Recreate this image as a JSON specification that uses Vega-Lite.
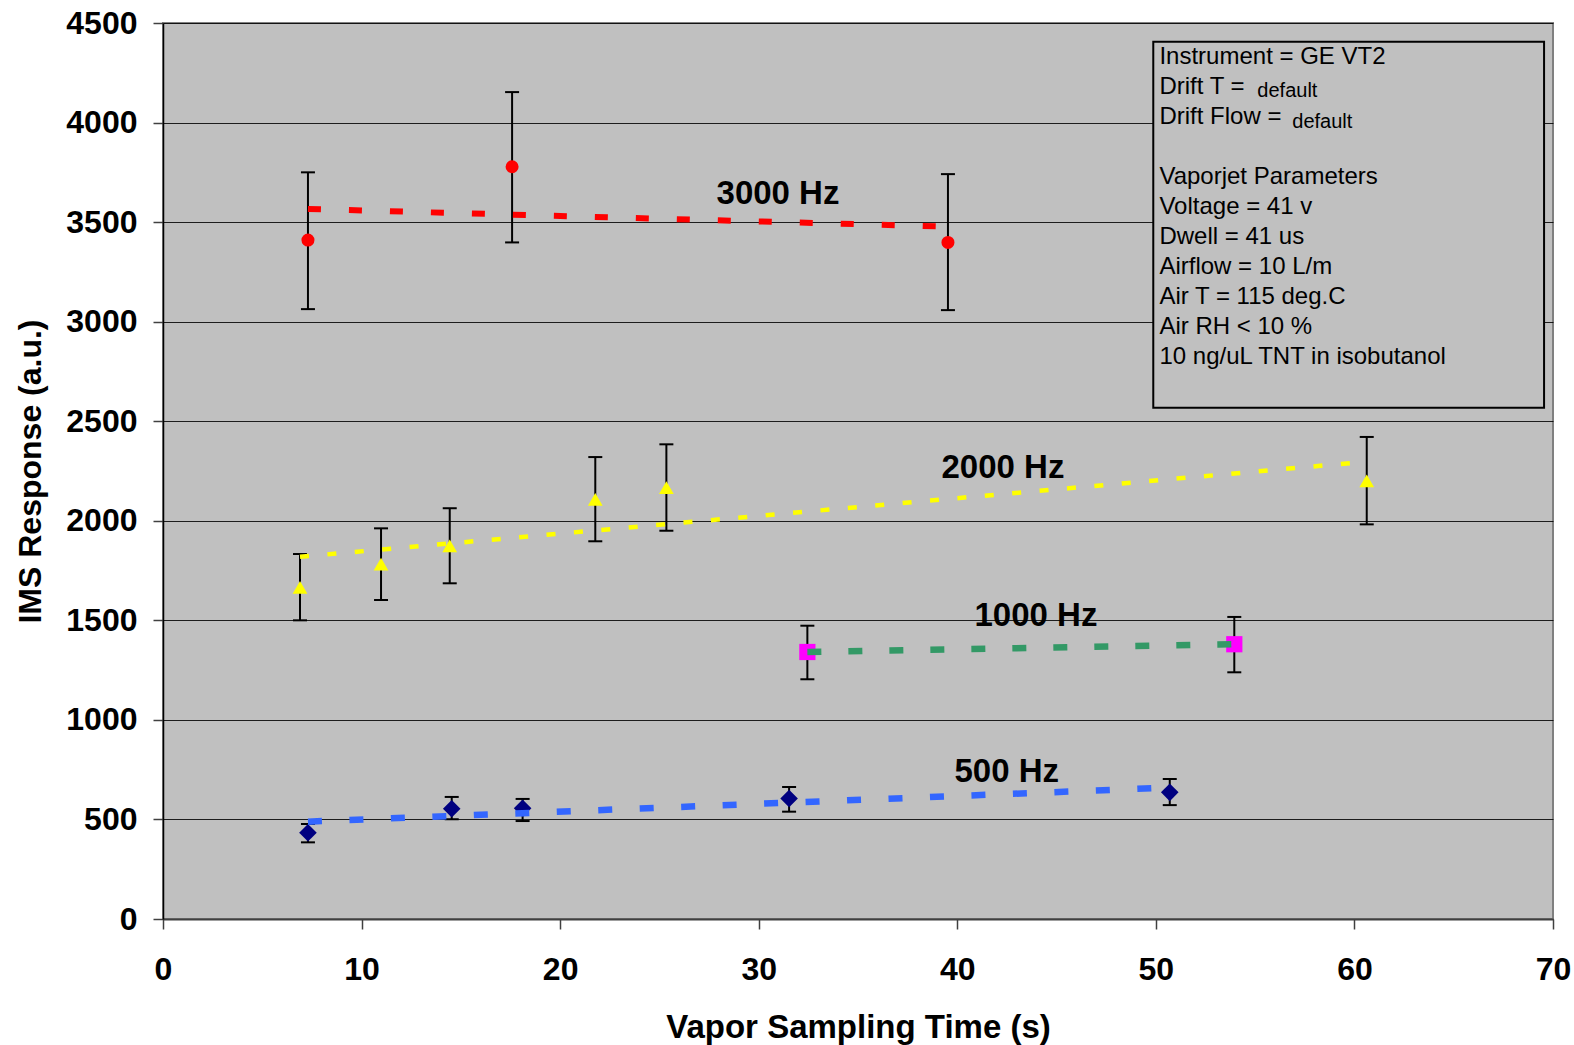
{
  "$schema": "https://vega.github.io/schema/vega-lite/v6.json",
  "autosize": {"type": "none"},
  "width": 1390,
  "height": 896,
  "padding": {"left": 163, "top": 23, "right": 21, "bottom": 126},
  "background": "#FFFFFF",
  "config": {
    "view": {"fill": "#C0C0C0", "stroke": "#808080", "strokeWidth": 2},
    "font": "Liberation Sans"
  },
  "datasets": {
    "pts": [
      {"series": "3000 Hz", "t": 7.30, "r": 3410, "lo": 3063, "hi": 3750},
      {"series": "3000 Hz", "t": 17.58, "r": 3778, "lo": 3398, "hi": 4153},
      {"series": "3000 Hz", "t": 39.53, "r": 3398, "lo": 3058, "hi": 3741},
      {"series": "2000 Hz", "t": 6.90, "r": 1666, "lo": 1500, "hi": 1833},
      {"series": "2000 Hz", "t": 10.98, "r": 1782, "lo": 1602, "hi": 1962},
      {"series": "2000 Hz", "t": 14.44, "r": 1874, "lo": 1686, "hi": 2063},
      {"series": "2000 Hz", "t": 21.77, "r": 2108, "lo": 1897, "hi": 2320},
      {"series": "2000 Hz", "t": 25.35, "r": 2166, "lo": 1950, "hi": 2384},
      {"series": "2000 Hz", "t": 60.62, "r": 2201, "lo": 1982, "hi": 2421},
      {"series": "1000 Hz", "t": 32.45, "r": 1341, "lo": 1204, "hi": 1473},
      {"series": "1000 Hz", "t": 53.95, "r": 1380, "lo": 1239, "hi": 1517},
      {"series": "500 Hz", "t": 7.30, "r": 433, "lo": 385, "hi": 477},
      {"series": "500 Hz", "t": 14.54, "r": 554, "lo": 501, "hi": 613},
      {"series": "500 Hz", "t": 18.11, "r": 556, "lo": 492, "hi": 603},
      {"series": "500 Hz", "t": 31.53, "r": 605, "lo": 539, "hi": 663},
      {"series": "500 Hz", "t": 50.70, "r": 636, "lo": 572, "hi": 703}
    ],
    "trend": [
      {"series": "3000 Hz", "t": 7.30, "r": 3566},
      {"series": "3000 Hz", "t": 39.53, "r": 3477},
      {"series": "2000 Hz", "t": 6.90, "r": 1819},
      {"series": "2000 Hz", "t": 60.62, "r": 2297},
      {"series": "1000 Hz", "t": 32.45, "r": 1341},
      {"series": "1000 Hz", "t": 53.95, "r": 1380},
      {"series": "500 Hz", "t": 7.30, "r": 489},
      {"series": "500 Hz", "t": 50.70, "r": 660}
    ],
    "labels": [
      {"label": "3000 Hz", "t": 30.97, "r": 3641},
      {"label": "2000 Hz", "t": 42.3, "r": 2265},
      {"label": "1000 Hz", "t": 43.96, "r": 1522},
      {"label": "500 Hz", "t": 42.49, "r": 740}
    ],
    "box": [
      {"t": 49.87, "t2": 69.55, "r": 4406, "r2": 2568}
    ],
    "boxlines": [
      {"line": "Instrument = GE VT2", "t": 50.18, "r": 4292},
      {"line": "Drift T =", "t": 50.18, "r": 4141},
      {"line": "Drift Flow =", "t": 50.18, "r": 3991},
      {"line": "Vaporjet Parameters", "t": 50.18, "r": 3690},
      {"line": "Voltage = 41 v", "t": 50.18, "r": 3539},
      {"line": "Dwell = 41 us", "t": 50.18, "r": 3388},
      {"line": "Airflow = 10 L/m", "t": 50.18, "r": 3238},
      {"line": "Air T = 115 deg.C", "t": 50.18, "r": 3087},
      {"line": "Air RH < 10 %", "t": 50.18, "r": 2936},
      {"line": "10 ng/uL TNT in isobutanol", "t": 50.18, "r": 2786}
    ],
    "subs": [
      {"line": "default", "t": 55.11, "r": 4129},
      {"line": "default", "t": 56.87, "r": 3974}
    ]
  },
  "encoding": {
    "x": {
      "field": "t", "type": "quantitative",
      "scale": {"domain": [0, 70], "nice": false, "zero": false},
      "axis": {
        "values": [0, 10, 20, 30, 40, 50, 60, 70],
        "format": "d",
        "title": "Vapor Sampling Time (s)",
        "grid": false,
        "domainColor": "#404040", "domainWidth": 2,
        "tickColor": "#404040", "tickWidth": 1.5, "tickSize": 10,
        "labelFont": "Liberation Sans", "labelFontSize": 32, "labelFontWeight": "bold", "labelColor": "#000000",
        "labelPadding": 25, "labelFlush": false,
        "titleFont": "Liberation Sans", "titleFontSize": 33, "titleFontWeight": "bold", "titleColor": "#000000",
        "titlePadding": 26
      }
    },
    "y": {
      "field": "r", "type": "quantitative",
      "scale": {"domain": [0, 4500], "nice": false, "zero": false},
      "axis": {
        "values": [0, 500, 1000, 1500, 2000, 2500, 3000, 3500, 4000, 4500],
        "format": "d",
        "title": "IMS Response (a.u.)",
        "grid": true, "gridColor": "#000000", "gridWidth": 1, "gridOpacity": 0.85,
        "domainColor": "#000000", "domainWidth": 1.5,
        "tickColor": "#404040", "tickWidth": 1.5, "tickSize": 10,
        "labelFont": "Liberation Sans", "labelFontSize": 32, "labelFontWeight": "bold", "labelColor": "#000000",
        "labelPadding": 16, "labelFlush": false,
        "titleFont": "Liberation Sans", "titleFontSize": 32, "titleFontWeight": "bold", "titleColor": "#000000",
        "titlePadding": 18
      }
    }
  },
  "layer": [
    {
      "data": {"name": "box"},
      "mark": {"type": "rect", "fill": "#C0C0C0", "stroke": "#000000", "strokeWidth": 2},
      "encoding": {
        "x2": {"field": "t2"},
        "y2": {"field": "r2"}
      }
    },
    {
      "data": {"name": "pts"},
      "mark": {"type": "rule", "color": "#000000", "strokeWidth": 2},
      "encoding": {"y": {"field": "lo", "type": "quantitative"}, "y2": {"field": "hi"}}
    },
    {
      "data": {"name": "pts"},
      "mark": {"type": "tick", "orient": "horizontal", "color": "#000000", "size": 14, "thickness": 2, "opacity": 1},
      "encoding": {"y": {"field": "lo", "type": "quantitative"}}
    },
    {
      "data": {"name": "pts"},
      "mark": {"type": "tick", "orient": "horizontal", "color": "#000000", "size": 14, "thickness": 2, "opacity": 1},
      "encoding": {"y": {"field": "hi", "type": "quantitative"}}
    },
    {
      "data": {"name": "pts"},
      "mark": {"type": "point", "filled": true, "opacity": 1},
      "encoding": {
        "shape": {"field": "series", "type": "nominal", "legend": null,
          "scale": {"domain": ["3000 Hz", "2000 Hz", "1000 Hz", "500 Hz"], "range": ["circle", "triangle-up", "square", "diamond"]}},
        "color": {"field": "series", "type": "nominal", "legend": null,
          "scale": {"domain": ["3000 Hz", "2000 Hz", "1000 Hz", "500 Hz"], "range": ["#FF0000", "#FFFF00", "#FF00FF", "#000080"]}},
        "size": {"field": "series", "type": "nominal", "legend": null,
          "scale": {"domain": ["3000 Hz", "2000 Hz", "1000 Hz", "500 Hz"], "range": [170, 310, 170, 200]}}
      }
    },
    {
      "data": {"name": "trend"},
      "transform": [{"filter": "datum.series === '3000 Hz'"}],
      "mark": {"type": "line", "color": "#FF0000", "strokeWidth": 6, "strokeDash": [13, 28], "strokeCap": "butt"},
      "encoding": {}
    },
    {
      "data": {"name": "trend"},
      "transform": [{"filter": "datum.series === '2000 Hz'"}],
      "mark": {"type": "line", "color": "#FFFF00", "strokeWidth": 4.5, "strokeDash": [9, 18.5], "strokeCap": "butt"},
      "encoding": {}
    },
    {
      "data": {"name": "trend"},
      "transform": [{"filter": "datum.series === '1000 Hz'"}],
      "mark": {"type": "line", "color": "#339966", "strokeWidth": 6.5, "strokeDash": [14, 27], "strokeCap": "butt"},
      "encoding": {}
    },
    {
      "data": {"name": "trend"},
      "transform": [{"filter": "datum.series === '500 Hz'"}],
      "mark": {"type": "line", "color": "#3366FF", "strokeWidth": 6.5, "strokeDash": [14, 27.5], "strokeCap": "butt"},
      "encoding": {}
    },
    {
      "data": {"name": "labels"},
      "mark": {"type": "text", "font": "Liberation Sans", "fontSize": 33, "fontWeight": "bold", "color": "#000000", "align": "center", "baseline": "middle"},
      "encoding": {"text": {"field": "label"}}
    },
    {
      "data": {"name": "boxlines"},
      "mark": {"type": "text", "font": "Liberation Sans", "fontSize": 24, "color": "#000000", "align": "left", "baseline": "alphabetic"},
      "encoding": {"text": {"field": "line"}}
    },
    {
      "data": {"name": "subs"},
      "mark": {"type": "text", "font": "Liberation Sans", "fontSize": 20, "color": "#000000", "align": "left", "baseline": "alphabetic"},
      "encoding": {"text": {"field": "line"}}
    }
  ]
}
